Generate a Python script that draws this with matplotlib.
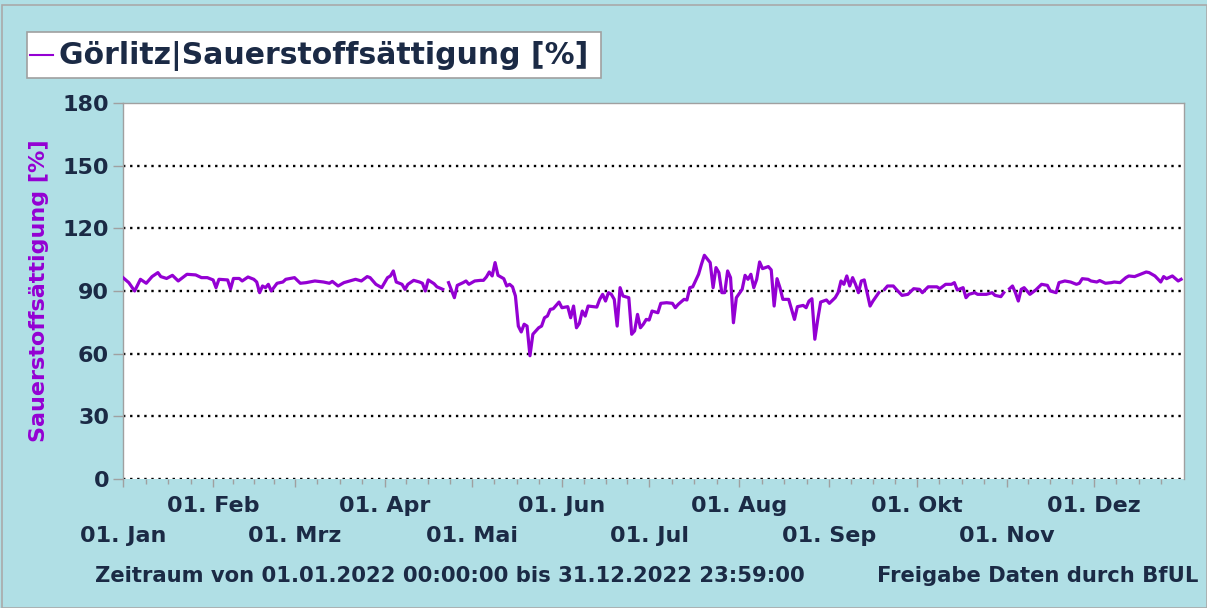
import numpy as np
import matplotlib
matplotlib.use("Agg")
import matplotlib.pyplot as plt
from matplotlib.patches import Rectangle
from matplotlib.lines import Line2D

# ---------------- data ----------------
nan = np.nan
days = [0, 2, 4, 6, 8, 10, 12, 13, 15, 17, 19, 22, 25, 27, 29, 31, 32, 33, 36, 37,
        38, 40, 41, 43, 45, 46, 47, 48, 49, 50, 51, 53, 55, 56, 59, 61, 63, 66, 69, 71,
        72, 74, 76, 78, 80, 82, 84, 85, 87, 89, 91, 92, 93, 94, 96, 97, 98, 100, 102, 103,
        104, 105, 107, 108, 110, 111,
        112, 114, 115, 117, 118, 119, 121, 123, 124, 125, 126, 127, 128, 129, 131, 132, 133, 134,
        135, 136, 137, 138, 139, 140, 141, 143, 144, 145, 146, 147, 148, 150, 151, 153, 154, 155,
        156, 157, 158, 159, 160, 163, 164, 165, 166, 167, 168, 169, 170, 171, 172, 174, 175, 176,
        177, 178, 179, 180, 181, 182, 184, 185, 187, 189, 190, 191, 193, 194, 195, 196, 198, 199,
        200, 202, 203, 204, 205, 206, 207, 208, 209, 210, 211, 213, 214, 215, 216, 217, 218, 219,
        220, 222, 223, 224, 225, 226, 227, 229, 231, 232, 234, 235, 236, 237, 238, 239, 240, 242,
        243, 245, 246, 247, 248, 249, 250, 251, 252, 253, 254, 255, 257, 258, 260, 261,
        262, 263, 265, 266, 268, 270, 272, 274, 275, 277, 278, 280, 281, 283, 285, 286, 287, 289,
        290, 291, 293, 294, 297, 299, 300, 302, 303, 304,
        305, 306, 307, 308, 309, 310, 312, 314, 316, 318, 319, 321, 322, 324, 326, 328, 329, 330,
        332, 333, 335, 336, 338, 340, 341, 343, 345, 346, 348, 350, 352, 353, 355, 357, 358, 359,
        361, 363, 364]
saettigung = [96.4, 94.0, 90.0, 95.6, 93.7, 96.9, 98.8, 96.9, 96.0, 97.5, 94.8, 98.0, 97.7, 96.4, 96.4, 95.3, 91.6, 95.6, 95.3, 91.0,
              96.0, 96.0, 94.8, 96.7, 95.6, 94.3, 89.2, 92.4, 91.6, 93.2, 90.0, 93.7, 94.3, 95.6, 96.4, 93.7, 94.0, 94.8, 94.3, 93.7,
              94.6, 92.4, 94.0, 94.8, 95.6, 94.8, 96.9, 96.4, 93.2, 91.6, 96.4, 97.2, 99.6, 94.3, 93.2, 90.8, 93.2, 95.1, 94.3, 93.7,
              90.0, 95.3, 93.5, 92.0, 90.8, nan,
              94.0, 86.8, 92.7, 94.0, 94.8, 93.2, 94.8, 95.1, 95.1, 96.7, 99.1, 97.2, 103.6, 97.5, 95.9, 92.4, 93.2, 92.0,
              87.6, 73.2, 70.4, 74.1, 73.2, 59.0, 69.3, 72.4, 73.2, 77.2, 78.0, 81.2, 81.5, 84.7, 82.0, 82.5, 77.2, 82.8,
              72.4, 74.5, 80.4, 78.0, 82.8, 82.3, 86.0, 88.4, 85.2, 89.2, 88.4, 86.0, 73.2, 91.6, 87.6, 86.8, 69.3, 70.9,
              78.8, 72.4, 74.1, 76.4, 76.1, 80.4, 79.6, 84.1, 84.4, 84.1, 82.0, 83.6, 86.0, 85.7, 91.6, 92.0, 98.0, 102.8,
              107.1, 103.6, 91.6, 101.2, 98.8, 89.2, 89.2, 99.6, 96.4, 74.8, 86.8, 90.8, 97.5, 95.6, 98.0, 91.6, 95.6, 103.9,
              100.7, 101.7, 100.1, 82.8, 95.9, 91.6, 86.0, 86.0, 76.4, 82.5, 83.1, 82.0, 85.2, 86.3, 66.9, 76.4, 84.7, 85.7,
              84.1, 86.8, 89.2, 94.8, 93.2, 97.2, 92.4, 96.4, 93.2, 89.2, 94.8, 95.3, 82.8, 85.2, 89.2, nan,
              90.8, 92.4, 92.4, 90.8, 87.9, 88.4, 91.1, 90.8, 89.2, 92.0, 92.0, 92.0, 91.1, 93.2, 93.2, 94.0, 90.5, 91.6,
              86.8, 88.4, 89.2, 88.4, 88.4, 89.2, 87.9, 87.3, 89.2, nan,
              91.1, 92.4, 89.2, 85.2, 90.8, 91.6, 88.4, 90.5, 93.2, 92.7, 90.0, 89.2, 94.0, 94.8, 94.3, 93.2, 93.7, 95.9,
              95.6, 94.8, 94.3, 95.0, 93.7, 94.0, 94.3, 94.0, 96.4, 97.2, 96.9, 98.0, 99.1, 98.8, 97.2, 94.3, 96.9, 95.9,
              97.2, 94.8, 95.6]

month_starts = [0, 31, 59, 90, 120, 151, 181, 212, 243, 273, 304, 334]
month_labels = ["01. Jan", "01. Feb", "01. Mrz", "01. Apr", "01. Mai", "01. Jun",
                "01. Jul", "01. Aug", "01. Sep", "01. Okt", "01. Nov", "01. Dez"]
y_ticks = [0, 30, 60, 90, 120, 150, 180]

title_text = "Görlitz|Sauerstoffsättigung [%]"
ylabel_text = "Sauerstoffsättigung [%]"
footer_left = "Zeitraum von 01.01.2022 00:00:00 bis 31.12.2022 23:59:00"
footer_right = "Freigabe Daten durch BfUL"

# ---------------- style ----------------
BG = "#B0DFE5"
TXT = "#1B2A45"
PURPLE = "#9400D3"
GREY = "#A0A0A0"
plt.rcParams['font.family'] = ['DejaVu Sans']
FW = 'bold'

W, H = 1207, 608
fig = plt.figure(figsize=(W / 100, H / 100), dpi=100, facecolor=BG)

# outer frame
fig.patches.append(Rectangle((2 / W, 0), 1 - 2 / W, 1 - 5 / H, transform=fig.transFigure,
                             fill=False, edgecolor="#A9A9A9", linewidth=1.2))

ax = fig.add_axes([123 / W, 1 - 479 / H, (1184 - 123) / W, (479 - 103) / H])
ax.set_facecolor("white")

ax.plot(days, saettigung, color=PURPLE, linewidth=2.3, solid_joinstyle='round', zorder=3)

ax.set_xlim(0, 365)
ax.set_ylim(0, 180)

for s in ax.spines.values():
    s.set_color(GREY)
    s.set_linewidth(1.0)
ax.spines['bottom'].set_visible(False)

# dotted grid lines
for v in y_ticks[:-1]:
    ax.axhline(v, color="black", linestyle=(0, (1, 2.0)), linewidth=1.7, zorder=2)

ax.set_yticks(y_ticks)
ax.set_yticklabels([str(v) for v in y_ticks])
ax.tick_params(axis='y', length=7, width=1, color=GREY, pad=3,
               labelsize=16, labelcolor=TXT)
for lab in ax.get_yticklabels():
    lab.set_fontweight(FW)

# upper row of month labels (Feb, Apr, ...) on the main axis
row1 = [lab if i % 2 == 1 else "" for i, lab in enumerate(month_labels)]
ax.set_xticks(month_starts)
ax.set_xticklabels(row1)
ax.tick_params(axis='x', length=6, width=1, color=GREY, pad=6.5,
               labelsize=16, labelcolor=TXT)
for lab in ax.get_xticklabels():
    lab.set_fontweight(FW)

minor = []
bounds = month_starts + [365]
for i in range(12):
    a, b = bounds[i], bounds[i + 1]
    minor += [a + (b - a) * k / 4 for k in (1, 2, 3)]
ax.set_xticks(minor, minor=True)
ax.tick_params(axis='x', which='minor', length=3.5, width=1, color=GREY)

# lower row of month labels (Jan, Mrz, ...)
sec = ax.secondary_xaxis('bottom')
sec.set_xticks(month_starts[0::2])
sec.set_xticklabels(month_labels[0::2])
sec.tick_params(axis='x', length=0, pad=34, labelsize=16, labelcolor=TXT)
sec.spines['bottom'].set_visible(False)
for lab in sec.get_xticklabels():
    lab.set_fontweight(FW)

ax.set_ylabel(ylabel_text, color=PURPLE, fontsize=16, fontweight=FW)
ax.yaxis.set_label_coords(-74 / (1184 - 123), 0.5)

# legend / title box
fig.patches.append(Rectangle((27 / W, 1 - 78 / H), (601 - 27) / W, (78 - 32) / H,
                             transform=fig.transFigure, facecolor="white",
                             edgecolor=GREY, linewidth=1.2))
fig.lines.append(Line2D([30 / W, 53 / W], [1 - 55 / H, 1 - 55 / H], transform=fig.transFigure,
                        color=PURPLE, linewidth=1.5))
fig.text(59 / W, 1 - 56 / H, title_text, fontsize=21.5, fontweight=FW, color=TXT,
         ha='left', va='center')

fig.text(95 / W, 1 - 576 / H, footer_left, fontsize=15.2, fontweight=FW, color=TXT,
         ha='left', va='center')
fig.text(877 / W, 1 - 576 / H, footer_right, fontsize=15.2, fontweight=FW, color=TXT,
         ha='left', va='center')

fig.savefig("out.png", dpi=100, facecolor=BG)
